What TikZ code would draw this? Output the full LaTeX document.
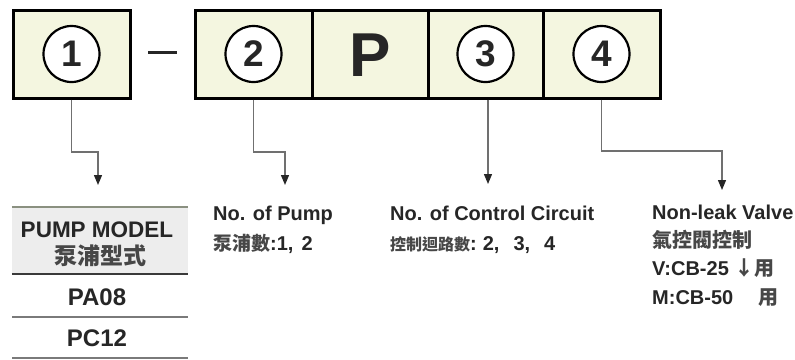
\documentclass[tikz,border=0pt]{standalone}
\usepackage{fontspec}
\setmainfont{Liberation Sans}
\newfontfamily\cjk{Noto Sans CJK TC}
\usetikzlibrary{arrows.meta}
\definecolor{boxfill}{HTML}{F4F6E0}
\definecolor{conn}{HTML}{707070}
\definecolor{txt}{HTML}{262626}
\definecolor{cjkc}{HTML}{474747}
\definecolor{hdrfill}{HTML}{EDEDED}
\definecolor{rulegreen}{HTML}{8A9080}
\definecolor{ruledark}{HTML}{3A3A3A}
\definecolor{rulegray}{HTML}{7A7A7A}
\begin{document}
\begin{tikzpicture}[x=1pt,y=-1pt,
  codebox/.style={draw=black, line width=3pt, fill=boxfill, minimum width=117pt, minimum height=88pt, inner sep=0pt},
  numcirc/.style={circle, draw=black, line width=2.2pt, fill=white, minimum size=56pt, inner sep=0pt, text=txt, font=\fontsize{37}{37}\selectfont\bfseries},
  connector/.style={draw=conn, line width=1.3pt, -{Triangle[width=8pt,length=10pt,color=black!85]}},
  desc/.style={anchor=base west, inner sep=0pt, text=txt, font=\fontsize{20}{20}\selectfont\bfseries},
  cellt/.style={anchor=base, inner sep=0pt, text=txt, font=\fontsize{22.5}{22.5}\selectfont\bfseries},
  cellv/.style={anchor=base, inner sep=0pt, text=txt, font=\fontsize{24}{24}\selectfont\bfseries},
  cjktxt/.style={text=cjkc},
]
\useasboundingbox (0,0) rectangle (795,359);
\fill[white] (0,0) rectangle (795,359);

% code boxes
\node[codebox] (b1) at (71.5,54) {};
\node[codebox, minimum width=117pt] (b2) at (253.5,54) {};
\node[codebox, minimum width=116pt] (b3) at (370,54) {};
\node[codebox, minimum width=115pt] (b4) at (485.5,54) {};
\node[codebox, minimum width=117pt] (b5) at (601.5,54) {};

\node[numcirc] (c1) at (71.5,54) {1};
\node[numcirc] (c2) at (b2.center) {2};
\node[inner sep=0pt, text=txt, font=\fontsize{62}{62}\selectfont\bfseries] (pp) at (370,55) {P};
\node[numcirc] (c3) at (b4.center) {3};
\node[numcirc] (c4) at (b5.center) {4};

% dash
\coordinate (dl) at (148,52);
\coordinate (dr) at (177,52);
\draw[line width=3pt, draw=black!85] (dl) -- (dr);

% connector targets
\coordinate (k1) at (98,152);
\coordinate (t1) at (98,185);
\coordinate (k2) at (285,152);
\coordinate (t2) at (285,185);
\coordinate (t3) at (488,184);
\coordinate (k4) at (722,151);
\coordinate (t4) at (722,190);

\draw[connector] (b1.south) |- (k1) -- (t1);
\draw[connector] (b2.south) |- (k2) -- (t2);
\draw[connector] (b4.south -| t3) -- (t3);
\draw[connector] (b5.south) |- (k4) -- (t4);

% table
\node[fill=hdrfill, minimum width=176pt, minimum height=67pt, inner sep=0pt] (hdr) at (100,240.5) {};
\node[cellt] (h1) at (97,237) {PUMP MODEL};
\node[cellt, cjktxt, font=\cjk\fontsize{23}{23}\selectfont\bfseries] (h2) at (100,264) {泵浦型式};
\node[cellv] (v1) at (97,305) {PA08};
\node[cellv] (v2) at (97,346) {PC12};
\coordinate (r3w) at (12,317);
\coordinate (r3e) at (188,317);
\coordinate (r4w) at (12,358);
\coordinate (r4e) at (188,358);
\draw[line width=2pt, draw=rulegreen] (hdr.north west) -- (hdr.north east);
\draw[line width=2pt, draw=ruledark] (hdr.south west) -- (hdr.south east);
\draw[line width=1.5pt, draw=rulegray] (r3w) -- (r3e);
\draw[line width=1.5pt, draw=rulegray] (r4w) -- (r4e);

% descriptions
\node[desc] (p1) at (213,220) {No. of Pump};
\node[desc] (p2) at (213,250) {{\cjk\fontsize{19}{19}\selectfont\color{cjkc}泵浦數}:1,\hspace{0.4em}2};

\node[desc] (q1) at (390,220) {No. of Control Circuit};
\node[desc] (q2) at (390,250) {{\cjk\fontsize{16}{16}\selectfont\color{cjkc}控制迴路數}:\hspace{0.3em}2,\hspace{0.7em}3,\hspace{0.7em}4};

\node[desc] (s1) at (652,219) {Non-leak Valve};
\node[desc] (s2) at (652,247) {{\cjk\color{cjkc}氣控閥控制}};
\node[desc] (s3) at (652,275) {V:CB-25 {\cjk\color{cjkc}↓用}};
\node[desc] (s4) at (652,304) {M:CB-50 {\cjk\color{cjkc}\phantom{↓}用}};
\end{tikzpicture}
\end{document}
